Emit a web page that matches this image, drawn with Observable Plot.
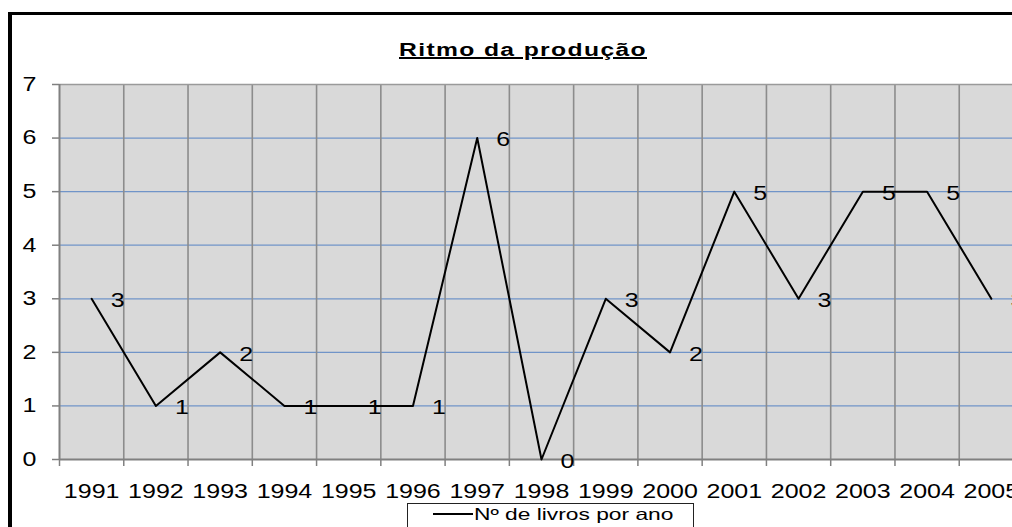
<!DOCTYPE html>
<html>
<head>
<meta charset="utf-8">
<script src="https://cdn.jsdelivr.net/npm/d3@7"></script>
<script src="https://cdn.jsdelivr.net/npm/@observablehq/plot@0.6"></script>
<style>
  html, body { margin: 0; padding: 0; overflow: hidden; width: 1012px; height: 527px; background: #fff; }
  #wrap { position: relative; width: 1012px; height: 527px; overflow: hidden; font-family: "Liberation Sans", Arial, sans-serif; }
  #chart { position: absolute; left: 0; top: 0; width: 1040px; height: 527px; }
  #chart svg { max-width: none !important; display: block; }
  #frameL { position: absolute; left: 8px; top: 12px; width: 4px; height: 600px; background: #000; }
  #frameT { position: absolute; left: 8px; top: 12px; width: 1100px; height: 3px; background: #000; }
  #title { position: absolute; left: 523px; top: 41px; font-size: 18px; line-height: 18px; font-weight: bold;
           text-decoration: underline; text-decoration-thickness: 2px; white-space: nowrap;
           transform: translateX(-50%) scaleX(1.37); letter-spacing: 1px; color: #000; }
  #legend { position: absolute; left: 407px; top: 503px; width: 285px; height: 40px; border: 1px solid #222; background: #fff; }
  #legend .swatch { position: absolute; left: 25px; top: 9px; width: 40px; height: 2px; background: #000; }
  #legend .lab { position: absolute; left: 66px; top: 2px; font-size: 16.5px; line-height: 16.5px; white-space: nowrap;
                 transform-origin: 0 0; transform: scaleX(1.38); color: #000; }
</style>
</head>
<body>
<div id="wrap">
  <div id="chart"></div>
  <div id="frameL"></div>
  <div id="frameT"></div>
  <div id="title">Ritmo da produção</div>
  <div id="legend"><div class="swatch"></div><div class="lab">Nº de livros por ano</div></div>
</div>
<script>
const years = ["1991","1992","1993","1994","1995","1996","1997","1998","1999","2000","2001","2002","2003","2004","2005"];
const livros = [3, 1, 2, 1, 1, 1, 6, 0, 3, 2, 5, 3, 5, 5, 3];
const yTicks = [0, 1, 2, 3, 4, 5, 6, 7];

const data = years.map((yr, i) => ({year: yr, i, v: livros[i]}));
const centers = years.map((_, i) => i + 0.5);
const boundaries = d3.range(0, years.length + 1);
const innerBounds = boundaries.filter(b => b > 0 && b < years.length);

const svg = Plot.plot({
  width: 1040,
  height: 527,
  marginLeft: 59,
  marginRight: 17,
  marginTop: 84,
  marginBottom: 68,
  style: {fontFamily: "Liberation Sans, Arial, sans-serif", background: "transparent", overflow: "visible", color: "#000", maxWidth: "none"},
  x: {type: "linear", domain: [0, years.length], label: null},
  y: {type: "linear", domain: [0, 7], label: null},
  marks: [
    Plot.frame({fill: "#d9d9d9", stroke: null}),
    Plot.ruleY(yTicks.filter(t => t > 0 && t < 7), {stroke: "#7094c8", strokeWidth: 1.3}),
    Plot.ruleX(innerBounds, {stroke: "#8c8c8c", strokeWidth: 1.6}),
    Plot.ruleY([7], {stroke: "#9a9a9a", strokeWidth: 1.6}),
    Plot.ruleX([0], {stroke: "#808080", strokeWidth: 2}),
    Plot.ruleY([0], {stroke: "#808080", strokeWidth: 2}),
    Plot.axisY(yTicks, {tickSize: 7, tickPadding: 16, fontSize: 20, stroke: "#808080", strokeWidth: 1.5, fill: "#000", label: null, tickFormat: d => String(d)}),
    Plot.axisX(boundaries, {tickSize: 7, tickPadding: 0, stroke: "#808080", strokeWidth: 1.5, label: null, tickFormat: () => ""}),
    Plot.axisX(centers, {tickSize: 0, tickPadding: 24, fontSize: 20, fill: "#000", label: null, tickFormat: c => years[Math.floor(c)]}),
    Plot.line(data, {x: d => d.i + 0.5, y: "v", stroke: "#000", strokeWidth: 2}),
    Plot.text(data, {x: d => d.i + 0.5, y: "v", text: d => String(d.v), dx: 26, dy: 2, fontSize: 20, fill: "#000"})
  ]
});

// The reference chart's lettering is horizontally stretched; widen glyphs around their anchors.
svg.querySelectorAll("text").forEach(t => {
  const tr = t.getAttribute("transform") || "";
  t.setAttribute("transform", (tr + " scale(1.25,1)").trim());
});

document.getElementById("chart").appendChild(svg);
</script>
</body>
</html>
